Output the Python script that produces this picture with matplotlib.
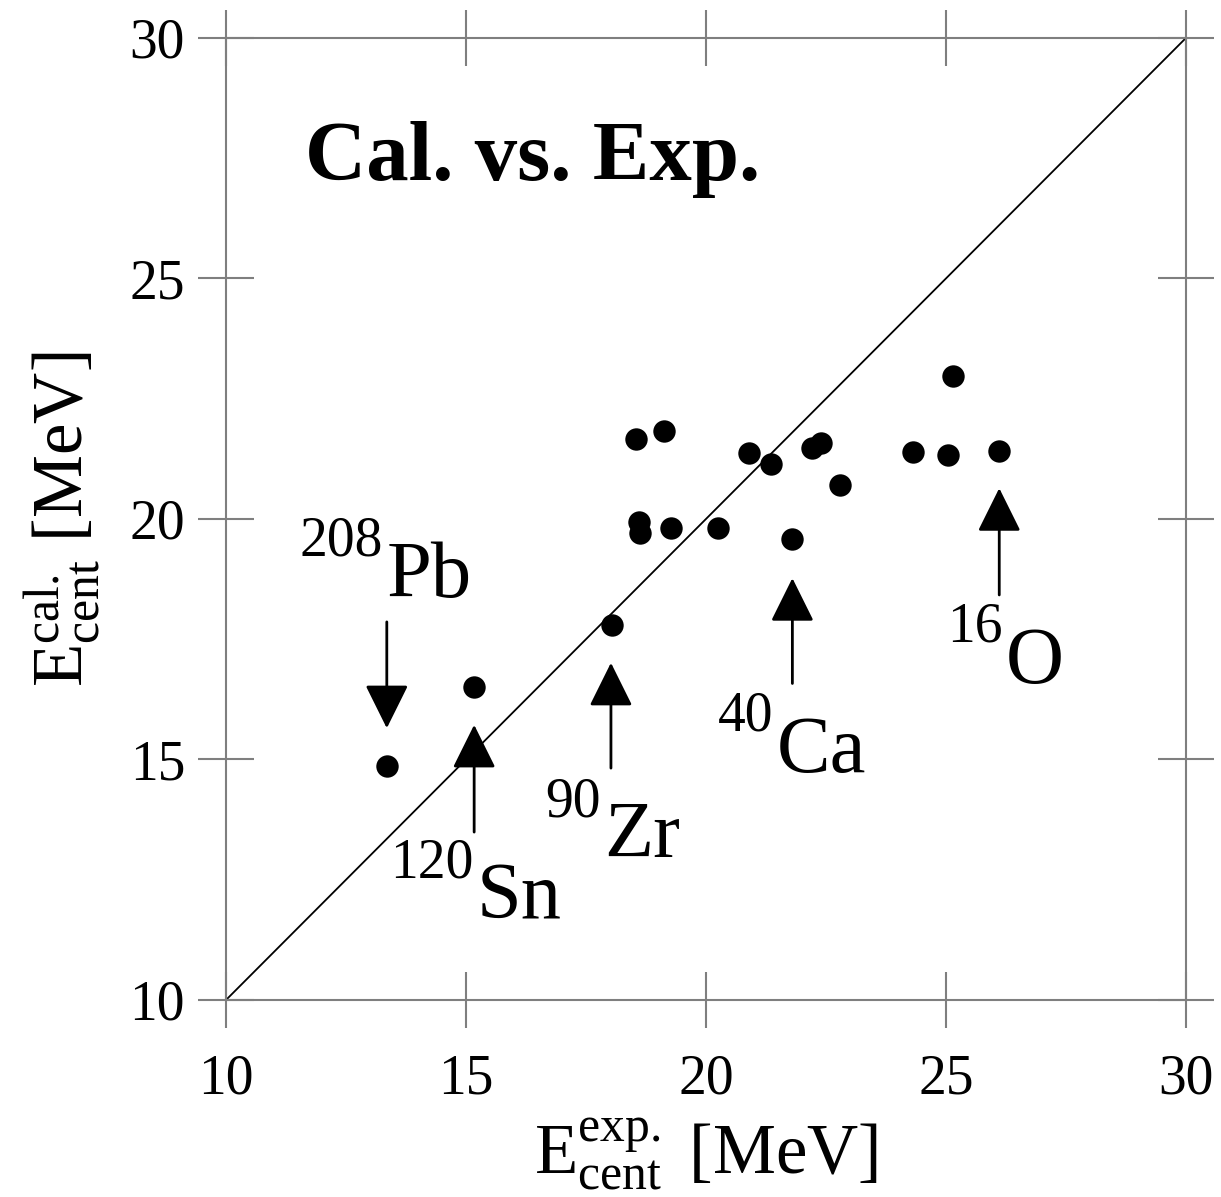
import matplotlib
matplotlib.use('Agg')
import matplotlib.pyplot as plt
import matplotlib.transforms as mtransforms

plt.rcParams['font.family'] = ['Liberation Serif', 'DejaVu Serif']
plt.rcParams['mathtext.fontset'] = 'custom'
plt.rcParams['mathtext.rm'] = 'Liberation Serif'
plt.rcParams['mathtext.it'] = 'Liberation Serif:italic'
plt.rcParams['mathtext.bf'] = 'Liberation Serif:bold'

# centroid energies, experiment vs calculation [MeV]
e_exp = [13.35, 15.17, 18.04, 18.54, 19.13, 18.61, 18.63, 19.27, 20.24, 20.90,
         21.36, 21.79, 22.20, 22.39, 22.79, 24.32, 25.05, 25.15, 26.11]
e_cal = [14.87, 16.50, 17.80, 21.66, 21.82, 19.94, 19.70, 19.81, 19.81, 21.37,
         21.14, 19.58, 21.48, 21.57, 20.71, 21.39, 21.33, 22.98, 21.42]

# nuclei marked with arrows: mass number, symbol, arrow tail, arrow tip, label anchor
mass_no = ['208', '120', '90', '40', '16']
symbol = ['Pb', 'Sn', 'Zr', 'Ca', 'O']
arrow_tail = [(13.35, 17.86), (15.17, 13.49), (18.02, 14.82), (21.80, 16.58), (26.11, 18.42)]
arrow_tip = [(13.35, 15.65), (15.17, 15.72), (18.02, 17.01), (21.80, 18.77), (26.11, 20.64)]
label_pos = [(11.54, 18.38), (13.42, 11.70), (16.65, 12.97), (20.25, 14.74), (25.02, 16.59)]

fig = plt.figure(figsize=(12.21, 11.97), dpi=100)
ax = fig.add_axes([0.1851, 0.1646, 0.7862, 0.8037])

ax.plot([10, 30], [10, 30], color='black', lw=1.3, zorder=1)
ax.scatter(e_exp, e_cal, s=260, color='black', zorder=3, linewidths=0)

ax.set_xlim(10, 30)
ax.set_ylim(10, 30)

renderer = fig.canvas.get_renderer()
for a, sym, tail, tip, pos in zip(mass_no, symbol, arrow_tail, arrow_tip, label_pos):
    ax.annotate('', xy=tip, xytext=tail,
                arrowprops=dict(arrowstyle='-|>,head_length=1.37,head_width=0.68',
                                mutation_scale=20, lw=2, color='black',
                                shrinkA=0, shrinkB=0))
    up = mtransforms.offset_copy(ax.transData, fig=fig, x=0, y=41, units='dots')
    sup = ax.text(pos[0], pos[1], a, fontsize=40, ha='left', va='baseline', transform=up)
    w = sup.get_window_extent(renderer).width
    right = mtransforms.offset_copy(ax.transData, fig=fig, x=w + 3, y=0, units='dots')
    ax.text(pos[0], pos[1], sym, fontsize=58, ha='left', va='baseline', transform=right)

ax.text(11.65, 27.05, 'Cal. vs. Exp.', fontsize=61, fontweight='bold',
        ha='left', va='baseline')

ax.set_xticks([10, 15, 20, 25, 30])
ax.set_yticks([10, 15, 20, 25, 30])
for sp in ax.spines.values():
    sp.set_color('#7f7f7f')
    sp.set_linewidth(1.5)
ax.tick_params(direction='inout', length=41, width=1.5, color='#7f7f7f',
               labelsize=40, pad=9, top=True, right=True)
ax.tick_params(axis='x', pad=18)

ax.set_xlabel(r'$\mathrm{E^{exp.}_{cent}}$ [MeV]', fontsize=51, labelpad=8)
ax.set_ylabel(r'$\mathrm{E^{cal.}_{cent}}$ [MeV]', fontsize=51, labelpad=20)

fig.savefig('out.png', dpi=100)
